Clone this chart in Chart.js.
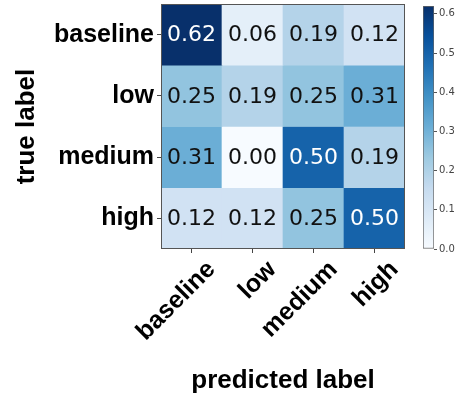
<!DOCTYPE html>
<html><head><meta charset="utf-8">
<script src="https://cdn.jsdelivr.net/npm/chart.js@4.4.0/dist/chart.umd.min.js"></script>
<style>
html,body{margin:0;padding:0;background:#fff;overflow:hidden;width:458px;height:401px}
#main{position:absolute;left:0;top:0}
#cbar{position:absolute;left:410px;top:0}
</style></head><body>
<canvas id="main" width="458" height="401"></canvas>
<canvas id="cbar" width="48" height="401"></canvas>
<script>
const predictedLabels = ['baseline', 'low', 'medium', 'high'];
const trueLabels = ['baseline', 'low', 'medium', 'high'];
const rowBaseline = [0.62, 0.06, 0.19, 0.12];
const rowLow      = [0.25, 0.19, 0.25, 0.31];
const rowMedium   = [0.31, 0.00, 0.50, 0.19];
const rowHigh     = [0.12, 0.12, 0.25, 0.50];
const colorbarTicks = [0.0, 0.1, 0.2, 0.3, 0.4, 0.5, 0.6];

const rows = [rowBaseline, rowLow, rowMedium, rowHigh];
const vmax = Math.max(...rows.flat());

const BLUES = [[247,251,255],[222,235,247],[198,219,239],[158,202,225],[107,174,214],[66,146,198],[33,113,181],[8,81,156],[8,48,107]];
function blues(t){
  t = Math.max(0, Math.min(1, t));
  const p = t * (BLUES.length - 1);
  const i = Math.min(BLUES.length - 2, Math.floor(p));
  const f = p - i;
  const a = BLUES[i], b = BLUES[i+1];
  const c = a.map((v,k)=>Math.round(v + (b[k]-v)*f));
  return `rgb(${c[0]},${c[1]},${c[2]})`;
}

const boldFont = (s)=>({family:'"Liberation Sans", Arial, sans-serif', weight:'bold', size:s});

const cellText = {
  id:'cellText',
  afterDatasetsDraw(chart){
    const ctx = chart.ctx;
    ctx.save();
    ctx.font = '22px "DejaVu Sans"';
    ctx.textAlign = 'center';
    ctx.textBaseline = 'middle';
    chart.data.datasets.forEach((ds, r)=>{
      const meta = chart.getDatasetMeta(r);
      meta.data.forEach((el, c)=>{
        const v = rows[r][c];
        ctx.fillStyle = v > vmax/2 + 0.01 ? '#ffffff' : '#111111';
        ctx.fillText(v.toFixed(2), el.x, (el.y + el.base)/2 + 1);
      });
    });
    const a = chart.chartArea;
    ctx.strokeStyle = '#555';
    ctx.lineWidth = 1;
    ctx.strokeRect(Math.round(a.left)+0.5, Math.round(a.top)+0.5, Math.round(a.right-a.left)-1, Math.round(a.bottom-a.top)-1);
    ctx.restore();
  }
};

new Chart(document.getElementById('main'), {
  type:'bar',
  data:{
    labels: predictedLabels,
    datasets: rows.map((row, r)=>({
      label: trueLabels[r],
      data: row.map(()=>[r, r+1]),
      backgroundColor: row.map(v=>blues(v/vmax)),
      borderWidth: 0,
      grouped: false,
      categoryPercentage: 1,
      barPercentage: 1
    }))
  },
  options:{
    responsive:false, animation:false,
    layout:{padding:{left:0, right:53, top:4, bottom:0}},
    plugins:{legend:{display:false}, tooltip:{enabled:false}},
    scales:{
      x:{
        type:'category', offset:true,
        grid:{offset:false, drawOnChartArea:false, drawTicks:true, tickLength:4, color:'#444'},
        border:{display:false},
        ticks:{minRotation:45, maxRotation:45, autoSkip:false, labelOffset:20, padding:2, color:'#000', font:boldFont(25)},
        title:{display:true, text:'predicted label', color:'#000', font:boldFont(26), padding:{top:0, bottom:5}},
        afterFit:(s)=>{ s.height = 152; s.paddingLeft = 0; s.paddingRight = 0; }
      },
      y:{
        type:'linear', reverse:true, min:0, max:4,
        afterBuildTicks:(s)=>{ s.ticks = [0.5,1.5,2.5,3.5].map(v=>({value:v})); },
        grid:{drawOnChartArea:false, tickLength:4, color:'#444'},
        border:{display:false},
        ticks:{padding:3, color:'#000', font:boldFont(25), callback:(v)=>trueLabels[Math.floor(v)]},
        title:{display:true, text:'true label', color:'#000', font:boldFont(26), padding:{top:11, bottom:0}},
        afterFit:(s)=>{ s.width = 161; s.paddingTop = 0; s.paddingBottom = 0; }
      }
    }
  },
  plugins:[cellText]
});

new Chart(document.getElementById('cbar'), {
  type:'bar',
  data:{
    labels:['colorbar'],
    datasets:[{
      data:[[0, vmax]],
      backgroundColor:(c)=>{
        const ca = c.chart.chartArea;
        if(!ca) return blues(0.5);
        const g = c.chart.ctx.createLinearGradient(0, ca.bottom, 0, ca.top);
        BLUES.forEach((col,i)=>g.addColorStop(i/(BLUES.length-1), `rgb(${col[0]},${col[1]},${col[2]})`));
        return g;
      },
      borderColor:'#666', borderWidth:1, borderSkipped:false,
      categoryPercentage:1, barPercentage:1
    }]
  },
  options:{
    responsive:false, animation:false,
    layout:{padding:{left:13, top:6, bottom:152, right:0}},
    plugins:{legend:{display:false}, tooltip:{enabled:false}},
    scales:{
      x:{display:false},
      y:{
        position:'right', min:0, max:vmax,
        afterBuildTicks:(s)=>{ s.ticks = colorbarTicks.map(v=>({value:v})); },
        grid:{drawOnChartArea:false, tickLength:3, color:'#555'},
        border:{display:false},
        ticks:{padding:2, color:'#444', font:{family:'"DejaVu Sans"', size:10}, callback:(v)=>Number(v).toFixed(1)},
        afterFit:(s)=>{ s.width = 24; s.paddingTop = 0; s.paddingBottom = 0; }
      }
    }
  }
});
</script>
</body></html>
